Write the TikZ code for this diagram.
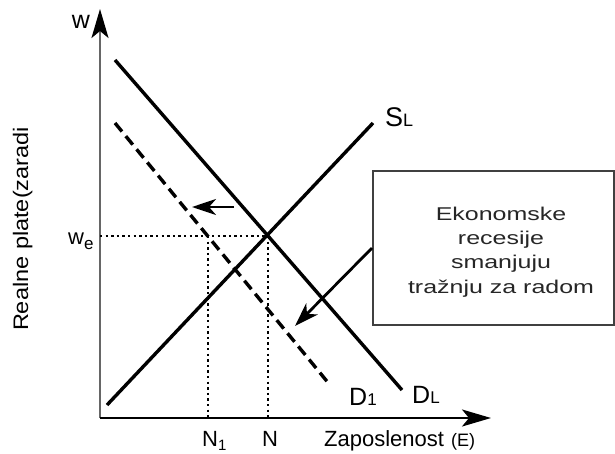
\documentclass[tikz,border=0pt]{standalone}
\usepackage{fontspec}
\setmainfont{Liberation Sans}
\newfontfamily\boxfont[FakeStretch=1.35]{Liberation Sans}
\newfontfamily\ylabfont[FakeStretch=1.12]{Liberation Sans}
\usetikzlibrary{arrows.meta,calc}
\begin{document}
\begin{tikzpicture}[x=1pt,y=-1pt,
  curve/.style={line width=3.4pt, black},
  dotline/.style={line width=2.8pt, dash pattern=on 2.4pt off 3.2pt, black},
  axis/.style={line width=2.2pt},
  bigtip/.style={-{Stealth[length=29pt,width=17pt,inset=7pt,color=black]}},
  smalltip/.style={-{Stealth[length=24pt,width=16pt,inset=7pt]}},
  lbl/.style={inner sep=0pt, font=\fontsize{22}{22}\selectfont},
]
\useasboundingbox (0,0) rectangle (615,453);
% axes
\coordinate (O) at (100,418);
\coordinate (ytop) at (100,9);
\coordinate (xend) at (491,418);
\draw[axis, black!60, bigtip] (O) -- (ytop);
\draw[axis, black, bigtip] (O) -- (xend);
% curves
\coordinate (DLa) at (115,60);
\coordinate (DLb) at (402,390);
\coordinate (SLa) at (107,405);
\coordinate (SLb) at (373,123);
\coordinate (D1a) at (115,123);
\coordinate (D1b) at (330,385);
\draw[curve] (DLa) -- (DLb);
\draw[curve] (SLa) -- (SLb);
\draw[curve, dash pattern=on 11pt off 6pt] (D1a) -- (D1b);
% equilibrium
\coordinate (E) at (268,236);
\coordinate (A) at (208,236);
\coordinate (wE) at (100,236);
\coordinate (NE) at (268,418);
\coordinate (NA) at (208,418);
\draw[dotline] (wE) -- (E);
\draw[dotline] (E) -- (NE);
\draw[dotline] (A) -- (NA);
% shift arrow
\coordinate (sa) at (234,207);
\coordinate (sb) at (192,207);
\draw[line width=2.8pt, smalltip] (sa) -- (sb);
% labels
\node[lbl, font=\fontsize{25}{25}\selectfont] (w) at (81,22) {w};
\node[lbl, anchor=base west] (we) at (68,244) {w\raisebox{-5pt}{\fontsize{17}{17}\selectfont e}};
\node[lbl, anchor=base west] (N1) at (202,446) {N\raisebox{-4pt}{\fontsize{15}{15}\selectfont 1}};
\node[lbl, anchor=base] (N) at (270,446) {N};
\node[lbl, anchor=base west] (zap) at (324,446) {Zaposlenost\hspace{7pt}{\fontsize{18}{18}\selectfont(E)}};
\node[lbl, anchor=base west] (D1) at (349,405) {{\fontsize{25}{25}\selectfont D}{\fontsize{17}{17}\selectfont 1}};
\node[lbl, anchor=base west] (DL) at (412,403) {{\fontsize{25}{25}\selectfont D}{\fontsize{17}{17}\selectfont L}};
\node[lbl, anchor=base west] (SL) at (385,126) {{\fontsize{27}{27}\selectfont S}{\fontsize{18}{18}\selectfont L}};
\node[inner sep=0pt, rotate=90, anchor=base, font=\ylabfont\fontsize{21}{21}\selectfont] (ylab) at (28,229) {Realne plate(zaradi};
% box
\node[draw=black!75, line width=2pt, minimum width=241pt, minimum height=154pt, inner sep=0pt] (box) at (493.5,248) {};
\node[align=center, inner sep=0pt, font=\boxfont\fontsize{18.5}{24.3}\selectfont, text=black!85] (btext) at (501,252)
  {Ekonomske\\recesije\\smanjuju\\tražnju za radom};
\coordinate (tipB) at (295,326);
\draw[line width=2.8pt, smalltip] (box.west) -- (tipB);
\end{tikzpicture}
\end{document}
